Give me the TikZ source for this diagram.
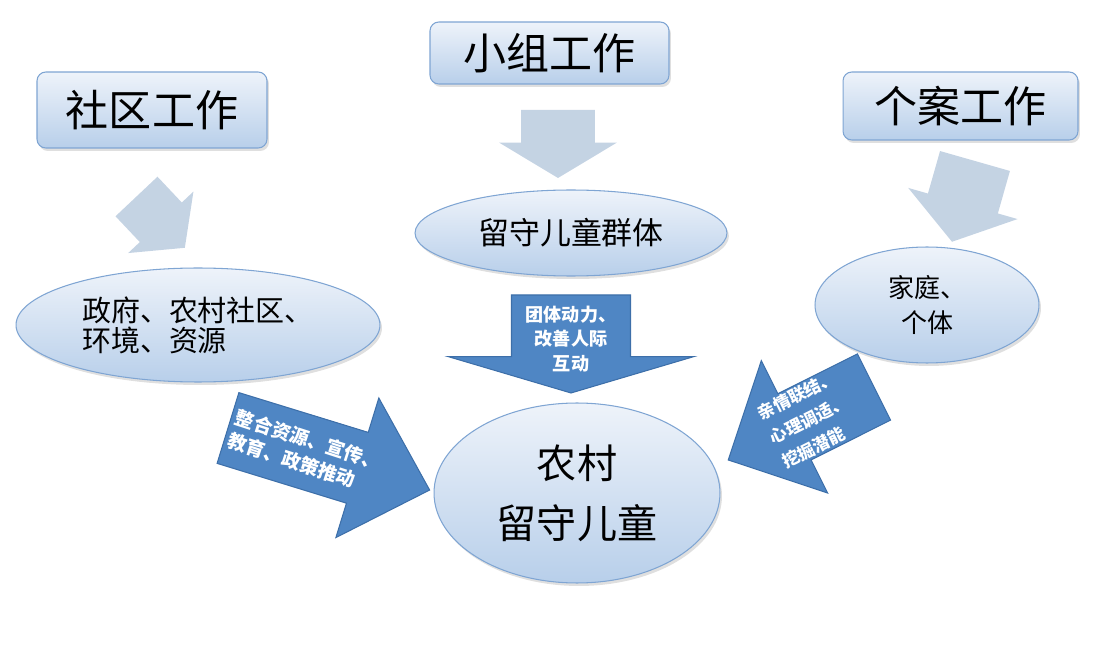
\documentclass[tikz,border=0pt]{standalone}
\usepackage{fontspec}
\setmainfont{Noto Sans CJK SC}
\usepackage{tikz}
\usetikzlibrary{shapes.geometric, shapes.arrows, shadows, calc}
\definecolor{boxtop}{HTML}{EEF3FA}
\definecolor{boxbottom}{HTML}{B8CFEA}
\definecolor{boxline}{HTML}{7FA5D3}
\definecolor{graybody}{HTML}{C4D3E3}
\definecolor{bluebody}{HTML}{4F86C4}
\definecolor{blueline}{HTML}{3D6FA9}
\tikzstyle{workbox}   = [rectangle, rounded corners=5pt, top color=boxtop, bottom color=boxbottom, draw=boxline, semithick, inner sep=0pt, font=\fontsize{24.5}{26}\selectfont, drop shadow={opacity=0.25, shadow xshift=0.04cm, shadow yshift=-0.06cm}]
\tikzstyle{targetell} = [ellipse, top color=boxtop, bottom color=boxbottom, draw=boxline, semithick, inner sep=0pt, drop shadow={opacity=0.25, shadow xshift=0.04cm, shadow yshift=-0.06cm}]
\tikzstyle{grayarrow} = [single arrow, fill=graybody, inner xsep=0pt, outer sep=0pt, anchor=tail]
\tikzstyle{bluearrow} = [single arrow, fill=bluebody, draw=blueline, semithick, inner xsep=0pt, outer sep=0pt, anchor=tail]
\tikzstyle{arrowtext} = [text=white, inner sep=0pt]

\begin{document}
\begin{tikzpicture}[x=0.02cm, y=-0.02cm]
            \useasboundingbox (0,0) rectangle (1100,645);
            % 1. 三种工作方法（顶部方框）
            \node (community) [workbox, minimum width=4.6cm, minimum height=1.52cm] at (152,110) {社区工作};
            \node (group) [workbox, minimum width=4.78cm, minimum height=1.24cm] at (549.5,53) {小组工作};
            \node (casework) [workbox, minimum width=4.7cm, minimum height=1.36cm] at (960.5,106) {个案工作};

            % 2. 工作对象（椭圆节点）
            \node (gov) [targetell, minimum width=7.28cm, minimum height=2.28cm, align=left, font=\fontsize{16.5}{17}\selectfont] at (198,325) {政府、农村社区、\\环境、资源};
            \node (kids) [targetell, minimum width=6.24cm, minimum height=1.72cm, font=\fontsize{17.6}{20}\selectfont] at (571,233) {留守儿童群体};
            \node (family) [targetell, minimum width=4.48cm, minimum height=2.32cm, align=center, font=\fontsize{14.8}{20}\selectfont] at (927,305) {家庭、\\个体};
            \node (child) [targetell, minimum width=5.72cm, minimum height=3.6cm, align=center, font=\fontsize{22.8}{34}\selectfont] at (577,493) {农村\\留守儿童};

            % 3. 灰色箭头（方法 → 对象）
            \node (grayL) [grayarrow, rotate=-46.7, minimum height=1.41cm, minimum width=1.78cm, inner ysep=0.57cm, single arrow head extend=0.32cm, single arrow tip angle=104] at (136.5,196.5) {};
            \node (grayM) [grayarrow, rotate=-90, minimum height=1.36cm, minimum width=2.34cm, inner ysep=0.73cm, single arrow head extend=0.44cm, single arrow tip angle=118] at (558,110) {};
            \node (grayR) [grayarrow, rotate=-105.9, minimum height=1.68cm, minimum width=2.26cm, inner ysep=0.72cm, single arrow head extend=0.41cm, single arrow tip angle=110] at (975,161) {};

            % 4. 蓝色箭头（对象 → 农村留守儿童）
            \node (blueL) [bluearrow, rotate=-17.1, minimum height=4.22cm, minimum width=2.9cm, inner ysep=0.73cm, single arrow head extend=0.72cm, single arrow tip angle=88] at (228,428) {};
            \node (blueM) [bluearrow, rotate=-90, minimum height=1.96cm, minimum width=4.9cm, inner ysep=1.18cm, single arrow head extend=1.27cm, single arrow tip angle=147] at (571,295) {};
            \node (blueR) [bluearrow, rotate=206.6, minimum height=3.26cm, minimum width=2.94cm, inner ysep=0.73cm, single arrow head extend=0.74cm, single arrow tip angle=90] at (874,387) {};

            % 蓝色箭头上的文字
            \node (textL) [arrowtext, rotate=-18, align=left, font=\bfseries\fontsize{10.8}{14}\selectfont] at ($(blueL.tail)!0.38!(blueL.tip)$) {整合资源、宣传、\\教育、政策推动};
            \node (textM) [arrowtext, align=center, font=\bfseries\fontsize{10.3}{13.7}\selectfont] at ($(blueM.tail)!0.45!(blueM.tip)$) {团体动力、\\改善人际\\互动};
            \node (textR) [arrowtext, rotate=26.6, align=left, font=\bfseries\fontsize{9.7}{15.5}\selectfont] at ($(blueR.tail)!0.445!(blueR.tip)$) {亲情联结、\\心理调适、\\挖掘潜能};

        \end{tikzpicture}
\end{document}
